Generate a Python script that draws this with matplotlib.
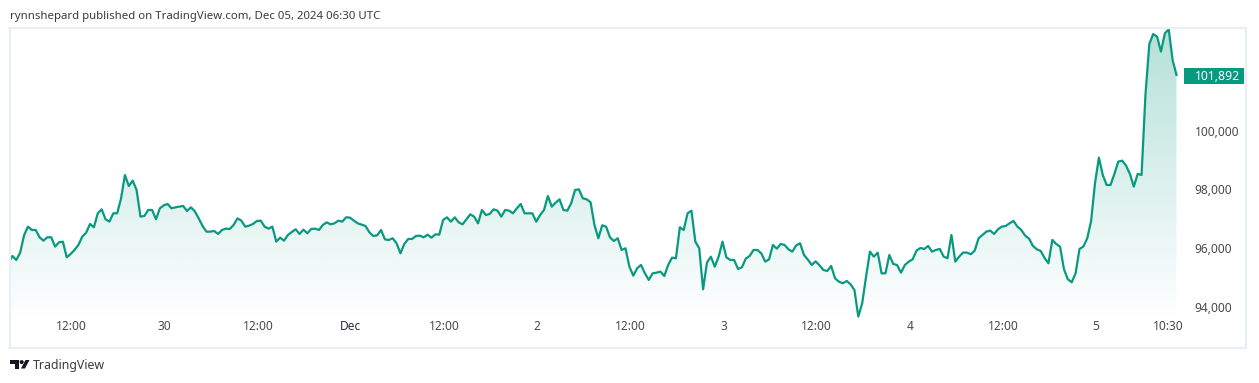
#! /usr/bin/python
# coding: utf-8

import numpy as np
import pandas as pd
import matplotlib
matplotlib.use('Agg')
import matplotlib.pyplot as plt
import matplotlib.dates as mdates
from matplotlib.patches import Rectangle, Polygon
from matplotlib.transforms import ScaledTranslation

WIDTH, HEIGHT = 1259, 383
LINE_COLOR = '#089981'
FRAME_COLOR = '#eceef5'
TEXT_COLOR = '#4a4a4f'
FONT = 'Noto Sans'

# 30 minute closes
prices_nov29 = [
    95509, 95735, 95599, 95849, 96438, 96732, 96619, 96619, 96370, 96256,
    96370, 96370, 96053, 96200, 96222, 95690, 95803, 95939, 96109, 96392,
    96528, 96823, 96710, 97186, 97321, 96982, 96902, 97186, 97186, 97695,
    98488, 98115, 98296, 97979, 97072, 97095, 97299, 97299, 96982, 97355,
    97457, 97503, 97355, 97389, 97412, 97435, 97265, 97389, 97253, 97015,
    96755, 96562, 96562, 96585, 96483, 96619, 96664, 96653, 96789, 97015,
    96936, 96732, 96766, 96823, 96925, 96936, 96732, 96664, 96732, 96222,
    96358, 96256, 96449, 96551, 96642, 96483, 96630, 96506, 96653, 96664]
prices_dec1 = [
    96619, 96789, 96879, 96811, 96845, 96936, 96902, 97049, 97038, 96936,
    96845, 96800, 96755, 96539, 96415, 96437, 96619, 96301, 96279, 96336,
    96166, 95826, 96143, 96313, 96313, 96415, 96426, 96369, 96460, 96358,
    96471, 96460, 96959, 97049, 96902, 97049, 96879, 96811, 96981, 97151,
    97072, 96845, 97299, 97129, 97163, 97321, 97276, 97072, 97299, 97276,
    97185, 97355, 97502, 97185, 97185, 97185, 96902, 97129, 97299, 97774,
    97412, 97548, 97661, 97299, 97276, 97525, 97978, 98001, 97695, 97661,
    97559, 96789, 96336, 96777, 96732, 96369, 96245, 96336, 95939, 95996,
    95372, 95067, 95316]
prices_dec2 = [
    95429, 95145, 94919, 95145, 95168, 95202, 95055, 95429, 95678, 95655,
    96709, 96618, 97185, 97276, 96222, 95995, 94602, 95508, 95712, 95372,
    95712, 96222, 95689, 95599, 95599, 95293, 95349, 95644, 95735, 95939,
    95939, 95825, 95542, 95621, 96109, 95984, 96143, 96109, 95961, 95882,
    96097, 96165, 95769, 95610, 95429, 95553, 95417, 95259, 95225, 95395,
    94976, 94862, 94806, 94885, 94772, 94579, 93673, 94126, 95032, 95882,
    95712, 95848, 95145, 95145, 95769, 95463, 95429, 95168, 95429, 95542,
    95621, 95916, 96007, 95973, 96075, 95882, 95939]
prices_dec4 = [
    95974, 95714, 95657, 96450, 95544, 95714, 95850, 95850, 95793, 95918,
    96337, 96450, 96563, 96597, 96484, 96643, 96733, 96756, 96847, 96926,
    96733, 96620, 96427, 96325, 96076, 95963, 95906, 95668, 95487, 96280,
    96144, 96054, 95283, 94943, 94841, 95147, 95974, 96054, 96337, 96926,
    98206, 99079, 98490, 98150, 98150, 98524, 98943, 98977, 98807, 98524,
    98093, 98524, 98490, 101209, 102942, 103282, 103192, 102682, 103305,
    103441, 102398, 101892]

last_time = '2024-12-05 10:30'
last_price_label = '101,892'

price_ticks = [94000, 96000, 98000, 100000, 102000]
time_ticks = ['2024-11-29 12:00', '2024-11-30 00:00', '2024-11-30 12:00',
              '2024-12-01 00:00', '2024-12-01 12:00', '2024-12-02 00:00',
              '2024-12-02 12:00', '2024-12-03 00:00', '2024-12-03 12:00',
              '2024-12-04 00:00', '2024-12-04 12:00', '2024-12-05 00:00',
              '2024-12-05 10:30']
time_labels = ['12:00', '30', '12:00', 'Dec', '12:00', '2', '12:00', '3',
               '12:00', '4', '12:00', '5', '10:30']

prices = np.array(prices_nov29 + prices_dec1 + prices_dec2 + prices_dec4)
times = pd.date_range(end=last_time, periods=len(prices), freq='30min')
x = mdates.date2num(times)

fig = plt.figure(figsize=(WIDTH / 100, HEIGHT / 100), dpi=100)

# chart box in pixels, frame drawn by the spines
left, right, top, bottom = 9.5, 1245.5, 27.5, 347.5
ax = fig.add_axes([left / WIDTH, 1 - bottom / HEIGHT,
                   (right - left) / WIDTH, (bottom - top) / HEIGHT])

# 186.25 px per day, 34 price units per px, anchored on Dec 1 and 94,000
dec1 = mdates.date2num(pd.Timestamp('2024-12-01'))
xlim = (dec1 + (left - 350) / 186.25, dec1 + (right - 350) / 186.25)
ylim = (94000 + 34 * (307 - bottom), 94000 + 34 * (307 - top))

for spine in ax.spines.values():
    spine.set_color(FRAME_COLOR)
    spine.set_linewidth(1.6)

# gradient under the line
fade_bottom = 94000 + 34 * (307 - 322)
rgba = np.zeros((256, 1, 4))
rgba[:, :, :3] = matplotlib.colors.to_rgb(LINE_COLOR)
rgba[:, 0, 3] = np.linspace(0.30, 0.0, 256)
fill = ax.fill_between(x, prices, fade_bottom, color='none', lw=0)
img = ax.imshow(rgba, aspect='auto', origin='upper', zorder=1,
                extent=[x[0], x[-1], fade_bottom, prices.max()],
                interpolation='bilinear')
img.set_clip_path(fill.get_paths()[0], ax.transData)
ax.set_xlim(xlim)
ax.set_ylim(ylim)

ax.plot(x, prices, color=LINE_COLOR, lw=1.6, zorder=2,
        solid_joinstyle='round')

# axes labels sit inside the frame
ax.yaxis.tick_right()
ax.set_yticks(price_ticks)
ax.set_yticklabels(['{:,}'.format(p) for p in price_ticks],
                   fontsize=8.6, family=FONT, color=TEXT_COLOR)
ax.tick_params(axis='y', length=0, pad=-36.5)

ax.set_xticks(mdates.date2num(pd.to_datetime(time_ticks)))
ax.set_xticklabels(time_labels, fontsize=8.6, family=FONT, color=TEXT_COLOR)
ax.tick_params(axis='x', length=0, pad=-20)
for label in ax.get_xticklabels():
    shift = 0.01
    if label.get_text() == 'Dec':
        label.set_fontweight('semibold')
        label.set_color('#2a2e39')
    if label.get_text() == '10:30':
        shift = -0.085
    label.set_transform(label.get_transform() + ScaledTranslation(
        shift, 0, fig.dpi_scale_trans))

# last price badge, covers most of the 102,000 label
trans = ax.get_yaxis_transform()
badge_left = (1184 - left) / (right - left)
badge_width = 60 / (right - left)
badge_mid = prices[-1] - 1.5 * 34
ax.add_patch(Rectangle((badge_left, badge_mid - 8 * 34), badge_width,
                       16 * 34, transform=trans, color=LINE_COLOR, lw=0,
                       zorder=5, clip_on=False))
ax.text((1195 - left) / (right - left), badge_mid, last_price_label,
        transform=trans, color='white', fontsize=8.8, family=FONT,
        fontweight='bold', va='center', ha='left', zorder=6)

fig.text(10 / WIDTH, 1 - 16.5 / HEIGHT,
         'rynnshepard published on TradingView.com, Dec 05, 2024 06:30 UTC',
         fontsize=8.22, family=FONT, color='#3a3a40', va='center')


# logo, pixel coords with y flipped
def px(pts):
    return [(a / WIDTH, 1 - b / HEIGHT) for a, b in pts]


logo = '#131722'
fig.patches.append(Polygon(px([(10, 360), (19, 360), (19, 368.5), (14.5, 368.5),
                               (14.5, 364), (10, 364)]), closed=True,
                           color=logo, lw=0, transform=fig.transFigure))
fig.patches.append(Polygon(px([(25.5, 360), (29.5, 360), (25, 368.5),
                               (21, 368.5)]), closed=True, color=logo, lw=0,
                           transform=fig.transFigure))
fig.patches.append(Polygon(px([(20, 360.5), (22.5, 360), (24, 362), (22.5, 364),
                               (20.5, 364), (19.5, 362)]), closed=True,
                           color=logo, lw=0, transform=fig.transFigure))
fig.text(33 / WIDTH, 1 - 365.5 / HEIGHT, 'TradingView', fontsize=8.9, family=FONT,
         color='#3a3a40', va='center')

fig.savefig('out.png', dpi=100)
